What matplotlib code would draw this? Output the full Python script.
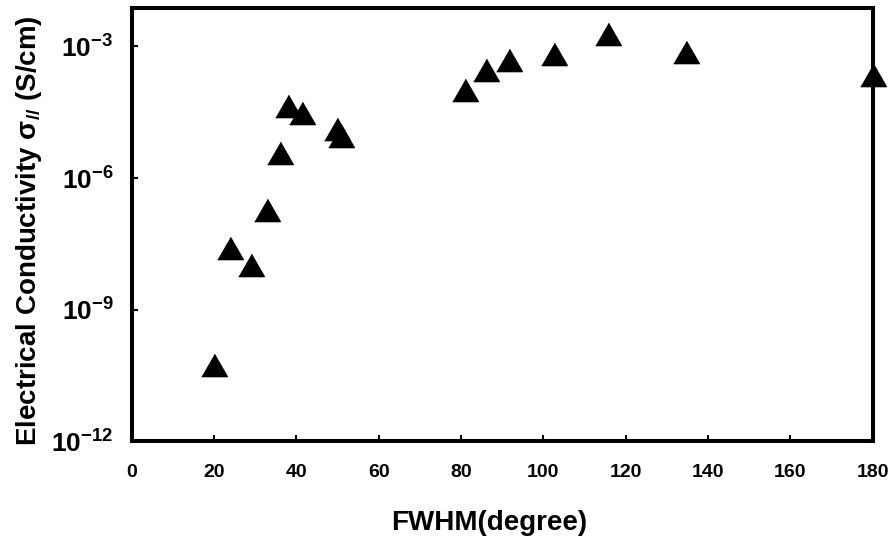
import matplotlib
matplotlib.use('Agg')
import matplotlib.pyplot as plt
from matplotlib.ticker import FixedLocator, NullLocator

# FWHM (degree) and in-plane conductivity (S/cm)
fwhm = [20, 24, 29, 33, 36, 38, 41.5, 50.0, 50.8, 81, 86, 91.7, 102.5, 115.8, 134.7, 180]
sigma = [5.5e-11, 2.57e-8, 1.05e-8, 1.9e-7, 3.7e-6, 4.4e-5, 3.0e-5, 1.32e-5, 9.1e-6,
         1.02e-4, 2.9e-4, 5.0e-4, 6.9e-4, 1.9e-3, 7.6e-4, 2.24e-4]

x_ticks = [0, 20, 40, 60, 80, 100, 120, 140, 160, 180]
y_ticks = [1e-12, 1e-9, 1e-6, 1e-3]

plt.rcParams['font.family'] = ['Liberation Sans', 'DejaVu Sans']
plt.rcParams['font.weight'] = 'bold'

fig = plt.figure(figsize=(8.93, 5.46), dpi=100)
ax = fig.add_axes([0.1473, 0.1914, 0.830, 0.7934])

# slightly wide triangle, as in the scanned figure
tri = [(-1.15, -1), (1.15, -1), (0, 1)]
ax.plot(fwhm, sigma, linestyle='none', marker=tri, markersize=18.4,
        color='black', clip_on=False, zorder=5)

ax.set_yscale('log')
ax.set_xlim(0, 180)
ax.set_ylim(1e-12, 10 ** -2.13)
ax.xaxis.set_major_locator(FixedLocator(x_ticks))
ax.yaxis.set_major_locator(FixedLocator(y_ticks))
ax.yaxis.set_minor_locator(NullLocator())

for sp in ax.spines.values():
    sp.set_linewidth(2.9)

ax.tick_params(axis='both', direction='in', length=4, width=1.5)
ax.tick_params(axis='x', labelsize=14, pad=16)
ax.tick_params(axis='y', labelsize=19, pad=13)

ax.set_xlabel('FWHM(degree)', fontsize=20, fontweight='bold')
ax.xaxis.set_label_coords(0.482, -0.158)
ax.set_ylabel(r'Electrical Conductivity $\mathdefault{σ_{//}}$ (S/cm)',
              fontsize=20, fontweight='bold')
ax.yaxis.set_label_coords(-0.118, 0.488)

fig.savefig('out.png', dpi=100)
